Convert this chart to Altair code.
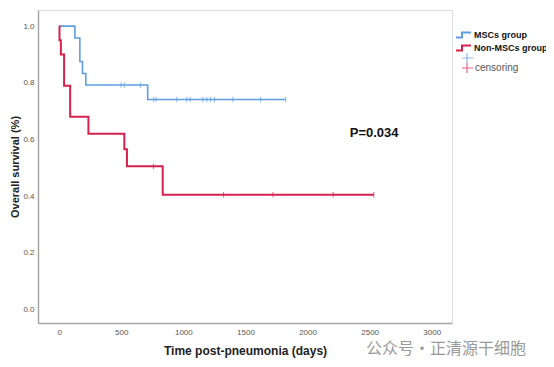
import altair as alt
import pandas as pd

# ---- data ----
groups = ["MSCs group", "Non-MSCs group"]
colors = ["#5f9de2", "#d6214e"]
censor_keys = ["MSCs censored", "Non-MSCs censored"]
censor_labels = ["", "censoring"]

blue_time = [0, 127, 167, 188, 215, 713, 1824]
blue_surv = [1.0, 0.958, 0.875, 0.833, 0.792, 0.741, 0.741]
red_time = [0, 3, 14, 40, 89, 236, 525, 546, 834, 2534]
red_surv = [1.0, 0.95, 0.90, 0.79, 0.68, 0.62, 0.565, 0.505, 0.405, 0.405]

blue_censor = [498, 525, 654, 761, 780, 947, 1027, 1055, 1157, 1189, 1219, 1251, 1399, 1622, 1824]
red_censor = [759, 1324, 1722, 2206, 2534]

x_ticks = [0, 500, 1000, 1500, 2000, 2500, 3000]
y_ticks = [0.0, 0.2, 0.4, 0.6, 0.8, 1.0]

p_label = ["P=0.034"]
p_pos = [(2536, 0.622)]
watermark = "公众号·正清源干细胞"


def step_value(times, survs, t):
    v = survs[0]
    for tt, ss in zip(times, survs):
        if tt <= t:
            v = ss
    return v


rows = []
for t, s in zip(blue_time, blue_surv):
    rows.append({"time": t, "surv": s, "group": groups[0]})
for t, s in zip(red_time, red_surv):
    rows.append({"time": t, "surv": s, "group": groups[1]})
lines_df = pd.DataFrame(rows)

crows = []
for t in blue_censor:
    crows.append({"time": t, "surv": step_value(blue_time, blue_surv, t), "cgroup": censor_keys[0]})
for t in red_censor:
    crows.append({"time": t, "surv": step_value(red_time, red_surv, t), "cgroup": censor_keys[1]})
cens_df = pd.DataFrame(crows)

ann_df = pd.DataFrame({"label": p_label, "time": [p[0] for p in p_pos], "surv": [p[1] for p in p_pos]})

FONT = "Liberation Sans"

x_scale = alt.Scale(domain=[-170, 3163], nice=False, zero=False)
y_scale = alt.Scale(domain=[-0.048, 1.057], nice=False, zero=False)

x_axis = alt.Axis(values=x_ticks, format="d", title="Time post-pneumonia (days)", grid=False, ticks=False,
                  domainColor="#a6a6a6", domainWidth=1.5, labelColor="#555555", labelFontSize=8,
                  labelPadding=5, labelFont=FONT, titleFont=FONT, titleFontSize=12,
                  titleFontWeight="bold", titleColor="#222222", titlePadding=9)
y_axis = alt.Axis(values=y_ticks, format=".1f", title="Overall survival (%)", grid=False, ticks=False,
                  domainColor="#a6a6a6", domainWidth=1.5, labelColor="#555555", labelFontSize=8,
                  labelPadding=4, labelFont=FONT, titleFont=FONT, titleFontSize=11,
                  titleFontWeight="bold", titleColor="#222222", titlePadding=2)

step_path = "M-1.8,0.5L0,0.5L0,-0.5L1.8,-0.5"
cross_path = "M-1.6,0L1.6,0M0,-1.6L0,1.6"

label_expr = " : ".join(
    [f"datum.label == '{k}' ? '{lab}'" for k, lab in zip(censor_keys, censor_labels)]
) + " : ''"

lines = alt.Chart(lines_df).mark_line(interpolate="step-after").encode(
    x=alt.X("time:Q", scale=x_scale, axis=x_axis),
    y=alt.Y("surv:Q", scale=y_scale, axis=y_axis),
    color=alt.Color("group:N", scale=alt.Scale(domain=groups, range=colors),
                    legend=alt.Legend(title=None, orient="none", legendX=418, legendY=19,
                                      symbolType=step_path, symbolSize=100, symbolStrokeWidth=2,
                                      symbolFillColor="transparent", labelFontWeight="bold",
                                      labelFontSize=9, labelFont=FONT, labelColor="#111111",
                                      rowPadding=1, labelOffset=6, padding=0, clipHeight=12)),
    strokeWidth=alt.StrokeWidth("group:N", scale=alt.Scale(domain=groups, range=[1.6, 2.0]), legend=None),
)

cens = alt.Chart(cens_df).mark_point(shape="M0,-1L0,1", filled=False, size=30, strokeWidth=1).encode(
    x=alt.X("time:Q", scale=x_scale),
    y=alt.Y("surv:Q", scale=y_scale),
    stroke=alt.Stroke("cgroup:N", scale=alt.Scale(domain=censor_keys, range=colors),
                      legend=alt.Legend(title=None, orient="none", legendX=424, legendY=43,
                                        symbolType=cross_path, symbolSize=64, symbolStrokeWidth=1.2,
                                        labelExpr=label_expr,
                                        labelFontSize=10, labelFont=FONT, labelColor="#555555",
                                        rowPadding=0, labelOffset=3, padding=0, clipHeight=10)),
)

ptext = alt.Chart(ann_df).mark_text(font=FONT, fontSize=13, fontWeight="bold", color="#111111").encode(
    x=alt.X("time:Q", scale=x_scale),
    y=alt.Y("surv:Q", scale=y_scale),
    text="label:N",
)

wm = alt.Chart(pd.DataFrame({"t": [watermark]})).mark_text(
    font="Noto Sans CJK SC", fontSize=16, color="#9a9a9a", align="left", baseline="middle"
).encode(x=alt.value(328), y=alt.value(339), text="t:N")

chart = alt.layer(lines, cens, ptext, wm).resolve_scale(color="independent", stroke="independent").properties(
    width=414, height=313,
    autosize=alt.AutoSizeParams(type="none"),
    padding={"left": 30, "top": 2, "right": 94, "bottom": 36},
).configure_view(stroke=None).configure(background="white")

chart.save("out.html", embed_options={"renderer": "svg", "actions": False})
